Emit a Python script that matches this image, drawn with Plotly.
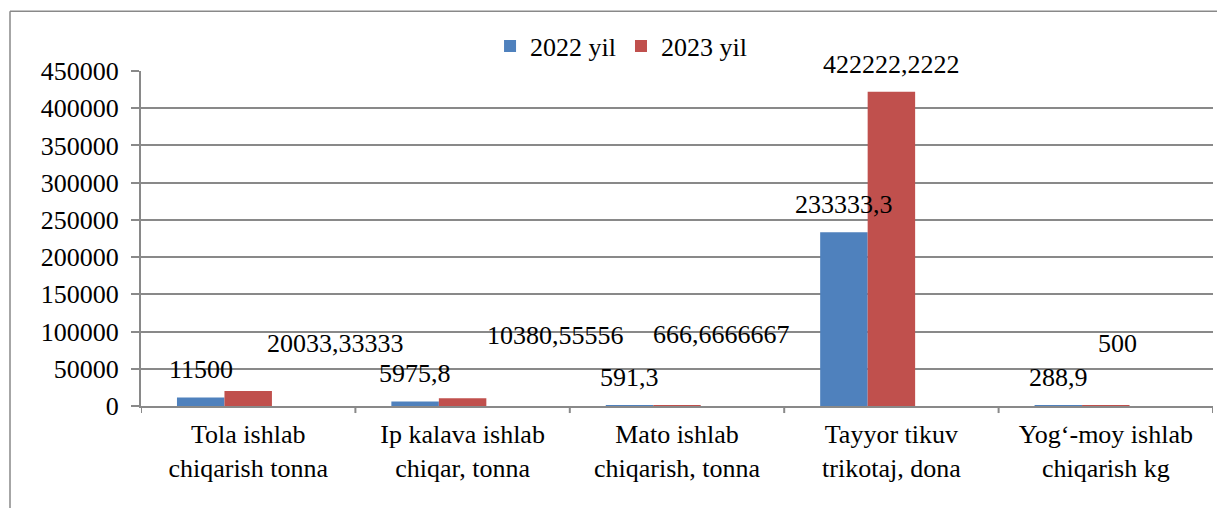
import plotly.graph_objects as go

categories = ["Tola ishlab<br>chiqarish tonna",
              "Ip kalava ishlab<br>chiqar, tonna",
              "Mato ishlab<br>chiqarish, tonna",
              "Tayyor tikuv<br>trikotaj, dona",
              "Yog‘-moy ishlab<br>chiqarish kg"]
values_2022 = [11500, 5975.8, 591.3, 233333.3, 288.9]
values_2023 = [20033.33333, 10380.55556, 666.6666667, 422222.2222, 500]
labels_2022 = ["11500", "5975,8", "591,3", "233333,3", "288,9"]
labels_2023 = ["20033,33333", "10380,55556", "666,6666667", "422222,2222", "500"]

# manual label nudges (px) for the 2023 labels, as in the original
shift_x_2023 = [87, 93, 44, 0, 12]
shift_y_2023 = [48, 63, 71, 27, 62]

FONT = "Times New Roman, Liberation Serif, DejaVu Serif, serif"
BLUE = "#4F81BD"
RED = "#C0504D"
GRID = "#898989"
W = 0.2215

fig = go.Figure()
fig.add_trace(go.Bar(x=list(range(5)), y=values_2022, name="2022 yil",
                     marker=dict(color=BLUE, line_width=0),
                     width=W, offset=-1.5 * W))
fig.add_trace(go.Bar(x=list(range(5)), y=values_2023, name="2023 yil",
                     marker=dict(color=RED, line_width=0),
                     width=W, offset=-0.5 * W))

for i, (v, t) in enumerate(zip(values_2022, labels_2022)):
    fig.add_annotation(x=i - W, y=v, text=t, showarrow=False,
                       yanchor="middle", yshift=28,
                       font=dict(family=FONT, size=26, color="black"))
for i, (v, t) in enumerate(zip(values_2023, labels_2023)):
    fig.add_annotation(x=i, y=v, text=t, showarrow=False,
                       yanchor="middle", xshift=shift_x_2023[i],
                       yshift=shift_y_2023[i],
                       font=dict(family=FONT, size=26, color="black"))

# outer frame (top and left edges only visible)
fig.add_shape(type="line", xref="paper", yref="paper",
              x0=-0.1222, x1=1.01, y0=1.178, y1=1.178,
              line=dict(color=GRID, width=1.5))
fig.add_shape(type="line", xref="paper", yref="paper",
              x0=-0.1222, x1=-0.1222, y0=1.178, y1=-0.35,
              line=dict(color=GRID, width=1.5))

fig.update_layout(
    width=1217, height=508,
    margin=dict(l=141, r=4, t=71, b=102),
    paper_bgcolor="white", plot_bgcolor="white",
    font=dict(family=FONT, size=26, color="black"),
    showlegend=True,
    legend=dict(orientation="h", x=0.4478, xanchor="center",
                y=1.074, yanchor="middle",
                font=dict(family=FONT, size=26, color="black"),
                itemwidth=30, bgcolor="rgba(0,0,0,0)"),
    xaxis=dict(tickmode="array", tickvals=list(range(5)), ticktext=categories,
               range=[-0.5, 4.5], showgrid=False, zeroline=False,
               showline=True, linecolor=GRID, linewidth=2,
               ticks="", automargin=False, ticklabelstandoff=4),
    yaxis=dict(range=[0, 450000], dtick=50000, tickformat="d",
               showgrid=True, gridcolor=GRID, gridwidth=2,
               zeroline=False, showline=True, linecolor=GRID, linewidth=2,
               ticks="outside", ticklen=8, tickcolor=GRID, tickwidth=2,
               automargin=False, ticklabelstandoff=7),
)

# category boundary ticks on the x axis
for b in [x - 0.5 for x in range(6)]:
    fig.add_shape(type="line", xref="x", yref="paper", x0=b, x1=b,
                  y0=0, y1=-0.021, line=dict(color=GRID, width=2))

fig.write_html("out.html", config={"displayModeBar": False},
               post_script="document.body.style.margin='0';")
